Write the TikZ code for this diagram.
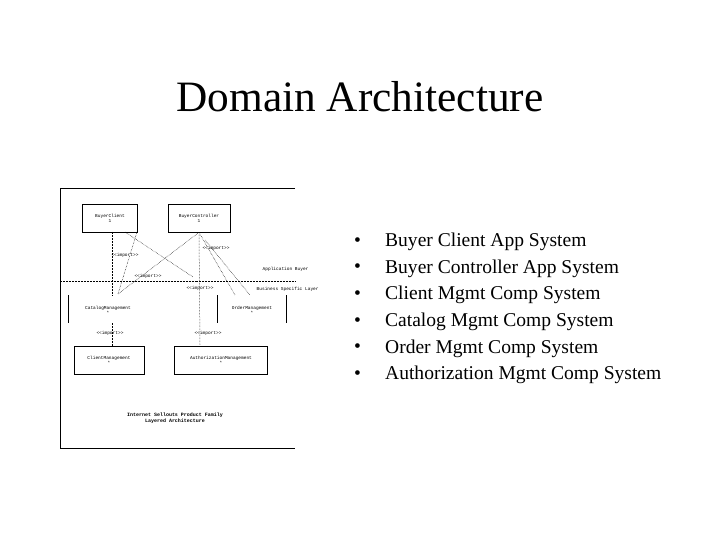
\documentclass[tikz,border=0pt]{standalone}
\usepackage{fontspec}
\setmainfont{Liberation Serif}
\setmonofont{Liberation Mono}
\begin{document}
\begin{tikzpicture}[x=1bp,y=-1bp,
  tiny/.style={font=\ttfamily\fontsize{4.5}{5}\selectfont,inner sep=0.5pt},
  pkg/.style={draw,line width=0.7pt,minimum width=#1,minimum height=28bp,align=center,tiny,text depth=0pt},
  dep/.style={densely dotted,line width=0.5pt},
  bul/.style={font=\fontsize{19.6}{22}\selectfont,anchor=west,inner sep=0pt}]
\useasboundingbox (0,0) rectangle (720,540);
\node[font=\fontsize{43.5}{46}\selectfont] (title) at (360,97) {Domain Architecture};
% frame
\draw[line width=0.7pt] (295,188) -- (60,188) -- (60,448) -- (295,448);
% packages
\node[pkg=55bp] (bc) at (110,218) {BuyerClient\\1};
\node[pkg=62bp] (bk) at (199,218) {BuyerController\\1};
\node[pkg=72bp,draw=none] (cm) at (108,310) {CatalogManagement\\*};
\draw[line width=0.7pt] (68,295) -- (68,323);
\node[pkg=70bp,draw=none] (om) at (252,310) {OrderManagement\\*};
\draw[line width=0.7pt] (217,295) -- (217,323) (286,295) -- (286,323);
\node[pkg=70bp] (clm) at (109,360) {ClientManagement\\*};
\node[pkg=93bp] (am) at (221,360) {AuthorizationManagement\\*};
% layer line
\coordinate (l1) at (60,281); \coordinate (l2) at (295,281);
\draw[dep] (l1) -- (l2);
\node[tiny,anchor=west] (ab) at (262,269) {Application Buyer};
\node[tiny,anchor=west] (bs) at (256,289) {Business Specific Layer};
% dependencies
\draw[dep] (112,232) -- (112,296);
\draw[dep] (137,232) -- (118,294);
\draw[dep] (125,232) -- (193,277);
\draw[dep] (bk.south) -- (118,294);
\draw[dep] (bk.south) -- (200,345);
\draw[dep] (bk.south) -- (235,295);
\draw[dep] (205,240) -- (250,295);
\draw[dep] (112,323) -- (112,346);
\node[tiny] (i1) at (125,255) {<<import>>};
\node[tiny] (i2) at (148,276) {<<import>>};
\node[tiny] (i3) at (216,248) {<<import>>};
\node[tiny] (i4) at (200,288) {<<import>>};
\node[tiny] (i5) at (110,333) {<<import>>};
\node[tiny] (i6) at (208,333) {<<import>>};
\node[font=\ttfamily\bfseries\fontsize{5}{6}\selectfont,align=center] (cap) at (175,418) {Internet Sellouts Product Family\\Layered Architecture};
% bullets
\foreach \t [count=\i] in {Buyer Client App System,Buyer Controller App System,Client Mgmt Comp System,Catalog Mgmt Comp System,Order Mgmt Comp System,Authorization Mgmt Comp System}{
  \node[bul] (d\i) at (354,{242+26.6*(\i-1)}) {•};
  \node[bul] (t\i) at (385,{242+26.6*(\i-1)}) {\t};
}
\end{tikzpicture}
\end{document}
